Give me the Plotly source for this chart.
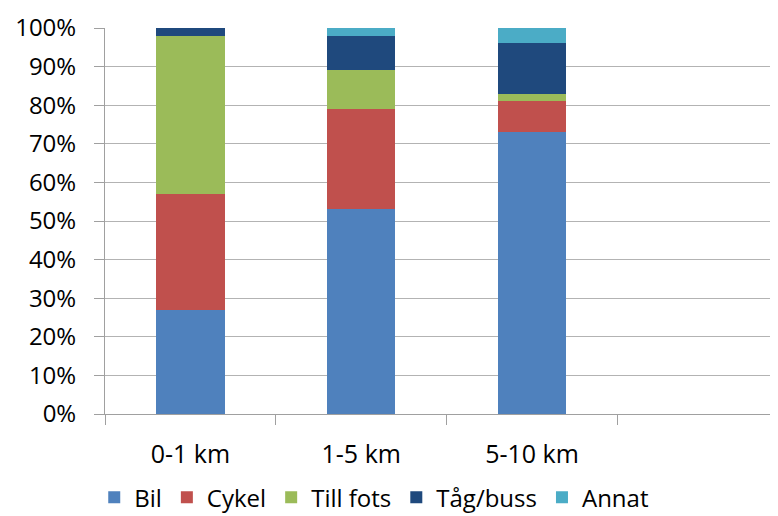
import plotly.graph_objects as go

categories = ["0-1 km", "1-5 km", "5-10 km"]
series_names = ["Bil", "Cykel", "Till fots", "Tåg/buss", "Annat"]
bil = [27, 53, 73]
cykel = [30, 26, 8]
till_fots = [41, 10, 2]
tag_buss = [2, 9, 13]
annat = [0, 2, 4]
y_ticks = [0, 10, 20, 30, 40, 50, 60, 70, 80, 90, 100]

values = [bil, cykel, till_fots, tag_buss, annat]
colors = ["#4F81BD", "#C0504D", "#9BBB59", "#1F497D", "#4BACC6"]

fig = go.Figure()
for name, vals, col in zip(series_names, values, colors):
    fig.add_trace(go.Bar(x=categories, y=vals, name=name, marker_color=col,
                         marker_line_width=0))

fig.update_layout(
    barmode="stack",
    bargap=0.6,
    width=770, height=508,
    margin=dict(l=97, r=0, t=20, b=102),
    paper_bgcolor="white", plot_bgcolor="white",
    font=dict(family="Open Sans", size=24, color="#000000"),
    legend=dict(orientation="h", xref="container", x=0.112, xanchor="left",
                yref="container", y=0.036, yanchor="middle",
                font=dict(size=24), itemwidth=30, traceorder="normal"),
    showlegend=True,
)
fig.update_xaxes(
    type="category",
    categoryorder="array",
    categoryarray=categories + [" "],
    range=[-0.5, 3.44],
    tickson="boundaries",
    ticks="outside", ticklen=10, tickcolor="#a0a0a0", tickwidth=1,
    showline=True, linecolor="#a0a0a0", linewidth=1,
    showgrid=False,
    ticklabelstandoff=18,
    tickfont=dict(size=25),
)
fig.update_yaxes(
    range=[0, 100],
    tickvals=y_ticks,
    ticktext=[f"{v}%" for v in y_ticks],
    ticks="outside", ticklen=10, tickcolor="#a0a0a0",
    showline=True, linecolor="#a0a0a0", linewidth=1,
    showgrid=True, gridcolor="#b3b3b3", gridwidth=1,
    zeroline=False,
    ticklabelstandoff=13,
)

fig.write_html("out.html")
